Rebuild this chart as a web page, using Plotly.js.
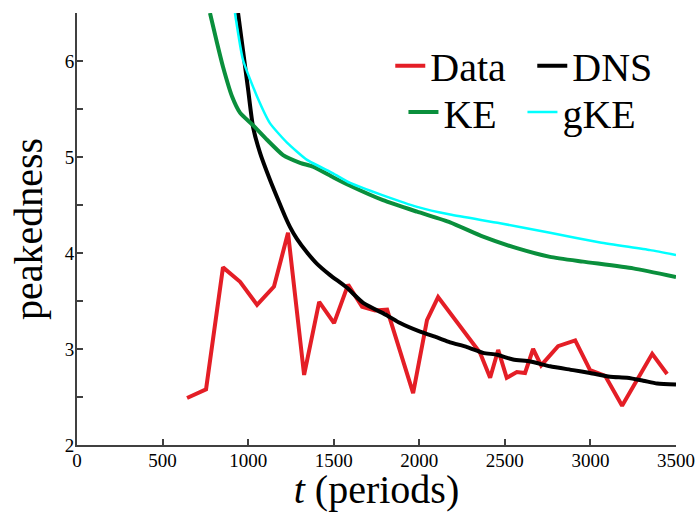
<!DOCTYPE html>
<html>
<head>
<meta charset="utf-8">
<script src="https://cdn.plot.ly/plotly-3.0.1.min.js"></script>
<style>html,body{margin:0;padding:0;background:#fff;}#chart{width:696px;height:512px;}</style>
</head>
<body>
<div id="chart"></div>
<script>
// Data (red, piecewise linear)
const dataT = [643, 754, 853, 953, 1052, 1151, 1233, 1327, 1415, 1502, 1584, 1666, 1742, 1812, 1964, 2045, 2110, 2355, 2414, 2461, 2511, 2570, 2618, 2665, 2712, 2811, 2911, 2998, 3086, 3185, 3361, 3448];
const dataY = [2.49, 2.58, 3.85, 3.70, 3.46, 3.65, 4.21, 2.73, 3.49, 3.27, 3.67, 3.44, 3.40, 3.41, 2.54, 3.30, 3.54, 2.96, 2.70, 2.99, 2.70, 2.76, 2.75, 3.00, 2.83, 3.03, 3.09, 2.78, 2.72, 2.41, 2.95, 2.74];

// DNS (black)
const dnsT = [941, 970, 1000, 1029, 1070, 1128, 1169, 1216, 1245, 1284, 1342, 1401, 1479, 1576, 1672, 1812, 1888, 2005, 2104, 2180, 2279, 2373, 2455, 2548, 2648, 2764, 2899, 2998, 3115, 3214, 3308, 3390, 3500];
const dnsY = [6.5, 6.11, 5.70, 5.31, 5.04, 4.76, 4.58, 4.38, 4.27, 4.15, 4.01, 3.89, 3.77, 3.64, 3.48, 3.35, 3.27, 3.18, 3.12, 3.07, 3.02, 2.96, 2.94, 2.89, 2.87, 2.82, 2.78, 2.75, 2.71, 2.70, 2.67, 2.64, 2.63];

// KE (green)
const keT = [777, 818, 853, 906, 953, 1029, 1110, 1204, 1303, 1379, 1496, 1596, 1788, 1987, 2180, 2373, 2570, 2764, 2957, 3250, 3500];
const keY = [6.5, 6.19, 5.94, 5.63, 5.46, 5.33, 5.18, 5.02, 4.94, 4.90, 4.79, 4.70, 4.55, 4.43, 4.32, 4.17, 4.05, 3.96, 3.91, 3.84, 3.75];

// gKE (cyan)
const gkeT = [923, 970, 1052, 1128, 1227, 1344, 1496, 1596, 1788, 1987, 2180, 2472, 2764, 3057, 3349, 3500];
const gkeY = [6.5, 6.01, 5.63, 5.35, 5.15, 4.97, 4.83, 4.73, 4.60, 4.48, 4.40, 4.31, 4.21, 4.11, 4.03, 3.98];

const xTicks = [0, 500, 1000, 1500, 2000, 2500, 3000, 3500];
const yTickVals = [2, 2.5, 3, 3.5, 4, 4.5, 5, 5.5, 6, 6.5];
const yTickText = ['2', '', '3', '', '4', '', '5', '', '6', ''];

const serif = 'Liberation Serif';

const traces = [
  {x: dataT, y: dataY, name: 'Data', mode: 'lines', line: {color: '#e41e26', width: 4}, legend: 'legend'},
  {x: dnsT, y: dnsY, name: 'DNS', mode: 'lines', line: {color: '#000000', width: 4, shape: 'spline', smoothing: 0.6}, legend: 'legend'},
  {x: keT, y: keY, name: 'KE', mode: 'lines', line: {color: '#0a8f3c', width: 4, shape: 'spline', smoothing: 0.5}, legend: 'legend2'},
  {x: gkeT, y: gkeY, name: 'gKE', mode: 'lines', line: {color: '#00ffff', width: 2.5, shape: 'spline', smoothing: 0.5}, legend: 'legend2'}
];

const axisCommon = {
  showgrid: false, zeroline: false, showline: true, linecolor: '#404040', linewidth: 2,
  ticks: 'inside', ticklen: 6, tickwidth: 2, tickcolor: '#404040',
  tickfont: {family: serif, size: 19, color: '#000'}, mirror: false
};

const layout = {
  width: 696, height: 512,
  margin: {l: 77, r: 20, t: 13, b: 67, autoexpand: false},
  paper_bgcolor: '#fff', plot_bgcolor: '#fff',
  font: {family: serif, color: '#000'},
  xaxis: Object.assign({}, axisCommon, {
    range: [0, 3500], tickmode: 'array', tickvals: xTicks, ticklabelstandoff: -3,
    title: {text: '<i>t</i> (periods)', font: {family: serif, size: 40}, standoff: 0}
  }),
  yaxis: Object.assign({}, axisCommon, {
    range: [2, 6.5], tickmode: 'array', tickvals: yTickVals, ticktext: yTickText, ticklabelstandoff: -3,
    title: {text: 'peakedness', font: {family: serif, size: 40}, standoff: 10}
  }),
  legend: {
    orientation: 'h', x: 0.523, y: 0.878, xanchor: 'left', yanchor: 'middle',
    font: {family: serif, size: 40}, bgcolor: 'rgba(0,0,0,0)', entrywidth: 97, itemwidth: 30,
    tracegroupgap: 0
  },
  legend2: {
    orientation: 'h', x: 0.545, y: 0.771, xanchor: 'left', yanchor: 'middle',
    font: {family: serif, size: 40}, bgcolor: 'rgba(0,0,0,0)', entrywidth: 74, itemwidth: 30,
    tracegroupgap: 0
  },
  showlegend: true
};

Plotly.newPlot('chart', traces, layout, {displayModeBar: false, staticPlot: true});
</script>
</body>
</html>
